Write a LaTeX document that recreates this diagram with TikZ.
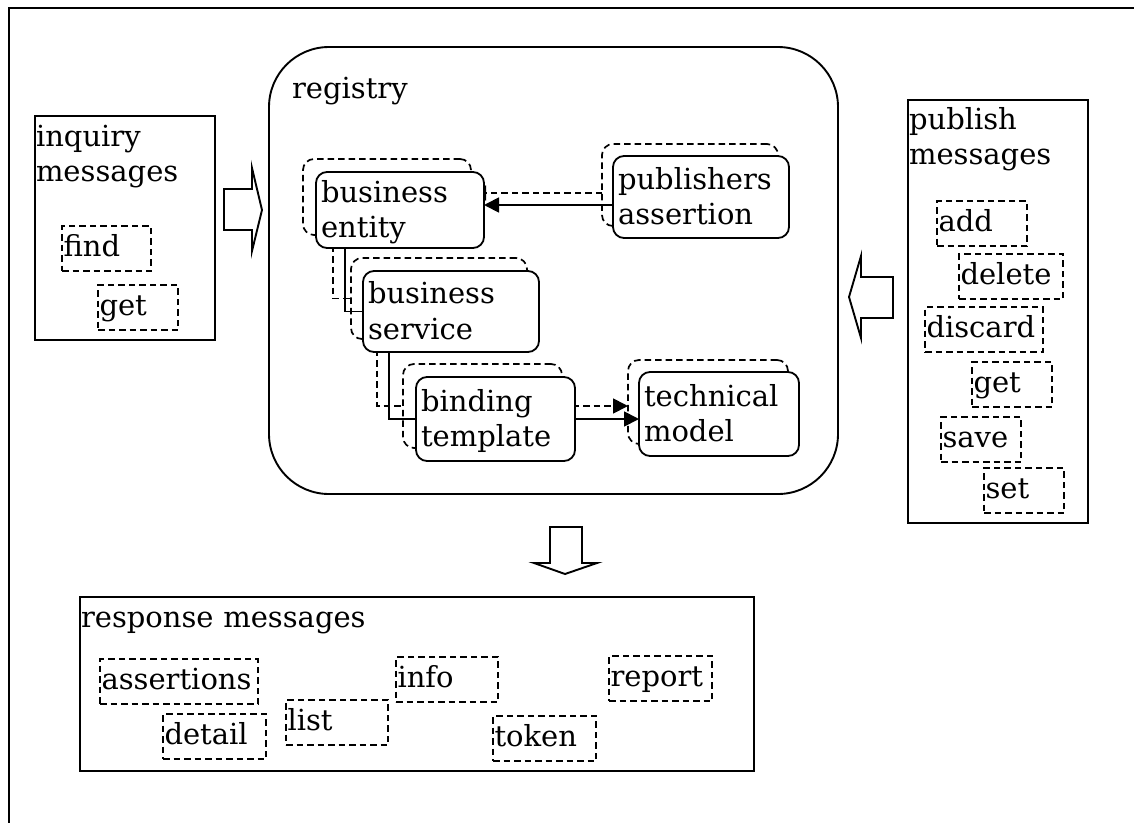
\documentclass[tikz,border=0pt]{standalone}
\usepackage{fontspec}
\setmainfont{DejaVu Serif}
\usetikzlibrary{arrows.meta}
\pgfdeclarelayer{links}
\pgfsetlayers{links,main}
\begin{document}
\begin{tikzpicture}[x=1pt,y=-1pt,
  font=\fontsize{29}{35.5}\selectfont,
  every node/.style={inner sep=0pt, outer sep=0pt},
  outerframe/.style={line width=2.4pt},
  panel/.style={draw, line width=1.9pt, anchor=north west},
  boxtitle/.style={anchor=north west, align=left, text width=175pt, text height=22pt},
  msg/.style={draw, dash pattern=on 6.5pt off 4pt, line width=1.7pt, anchor=north west,
    minimum height=45pt, inner xsep=1.5pt, align=left, text height=22pt, text depth=7pt},
  entity/.style={draw, line width=1.8pt, rounded corners=11pt, fill=white, anchor=north west,
    inner xsep=5pt, align=left, text height=22pt, text depth=38pt},
  ghost/.style={draw, dash pattern=on 6.5pt off 4pt, line width=1.7pt, rounded corners=11pt,
    anchor=north west},
  solidlink/.style={line width=1.8pt},
  dashlink/.style={line width=1.7pt, dash pattern=on 6.5pt off 4pt},
  headtip/.style={-{Triangle[length=15pt,width=15pt]}},
  blockarrow/.style={draw, line width=1.9pt, fill=white, line join=miter}
]
\useasboundingbox (0,0) rectangle (1134,822);

% surrounding frame
\draw[outerframe] (9,840) -- (9,8) -- (1150,8);

% inquiry side
\node[panel, minimum width=180pt, minimum height=224pt] (inq) at (35,116) {};
\node[boxtitle] (inqT) at (36,124) {inquiry\\messages};
\node[msg, text width=86pt] (find) at (62,226) {find};
\node[msg, text width=77pt] (iget) at (98,285) {get};

% registry
\node[panel, rounded corners=60pt, minimum width=569pt, minimum height=447pt] (reg) at (269,47) {};
\node[boxtitle] (regT) at (292,76) {registry};

% dashed copies behind the registry entries
\node[ghost, minimum width=168pt, minimum height=76pt] (bes) at (303,159) {};
\node[ghost, minimum width=176pt, minimum height=82pt] (pas) at (602,144) {};
\node[ghost, minimum width=176pt, minimum height=81pt] (bss) at (351,258) {};
\node[ghost, minimum width=159pt, minimum height=84pt] (bts) at (403,364) {};
\node[ghost, minimum width=160pt, minimum height=84pt] (tms) at (628,360) {};

% registry entries
\node[entity, text width=158pt, minimum height=76pt] (be) at (316,172) {business\\entity};
\node[entity, text width=166pt, minimum height=82pt] (pa) at (613,156) {publishers\\assertion};
\node[entity, text width=166pt, minimum height=81pt] (bs) at (363,271) {business\\service};
\node[entity, text width=149pt, minimum height=84pt] (bt) at (416,377) {binding\\template};
\node[entity, text width=150pt, minimum height=84pt] (tm) at (639,372) {technical\\model};

\begin{pgfonlayer}{links}
  \draw[dashlink] ([xshift=30pt]bes.south west) |- (bss.west);
  \draw[dashlink] ([xshift=26pt]bss.south west) |- (bts.west);
  \draw[dashlink, headtip] ([yshift=-8pt]pas.west) -- ([yshift=-8pt]pas.west -| bes.east);
  \draw[dashlink, headtip] (bts.east) -- (bts.east -| tms.west);
  \draw[solidlink] ([xshift=29pt]be.south west) |- (bs.west);
  \draw[solidlink] ([xshift=26pt]bs.south west) |- (bt.west);
  \draw[solidlink, headtip] ([yshift=-8pt]pa.west) -- ([yshift=-8pt]pa.west -| be.east);
  \draw[solidlink, headtip] (bt.east) -- (bt.east -| tm.west);
\end{pgfonlayer}

% publish side
\node[panel, minimum width=180pt, minimum height=423pt] (pub) at (908,100) {};
\node[boxtitle] (pubT) at (909,107) {publish\\messages};
\node[msg, text width=87pt] (add) at (937,201) {add};
\node[msg, text width=101pt] (delete) at (959,254) {delete};
\node[msg, text width=115pt] (discard) at (925,307) {discard};
\node[msg, text width=77pt] (pget) at (972,362) {get};
\node[msg, text width=77pt] (save) at (941,417) {save};
\node[msg, text width=77pt] (set) at (984,468) {set};

% response side
\node[panel, minimum width=674pt, minimum height=174pt] (resp) at (80,597) {};
\node[boxtitle, text width=400pt] (respT) at (81,605) {response messages};
\node[msg, text width=155pt] (assertions) at (100,659) {assertions};
\node[msg, text width=100pt] (detail) at (163,714) {detail};
\node[msg, text width=99pt] (list) at (286,700) {list};
\node[msg, text width=99pt] (info) at (396,657) {info};
\node[msg, text width=100pt] (token) at (493,716) {token};
\node[msg, text width=100pt] (report) at (609,656) {report};

% hollow block arrows
\draw[blockarrow] (224,189) -- (252,189) -- (252,168) -- (262,210) -- (252,251)
  -- (252,230) -- (224,230) -- cycle;
\draw[blockarrow] (893,277) -- (861,277) -- (861,256) -- (849,297) -- (861,338)
  -- (861,318) -- (893,318) -- cycle;
\draw[blockarrow] (550,527) -- (582,527) -- (582,563) -- (597,563) -- (565,574)
  -- (534,563) -- (550,563) -- cycle;
\end{tikzpicture}
\end{document}
